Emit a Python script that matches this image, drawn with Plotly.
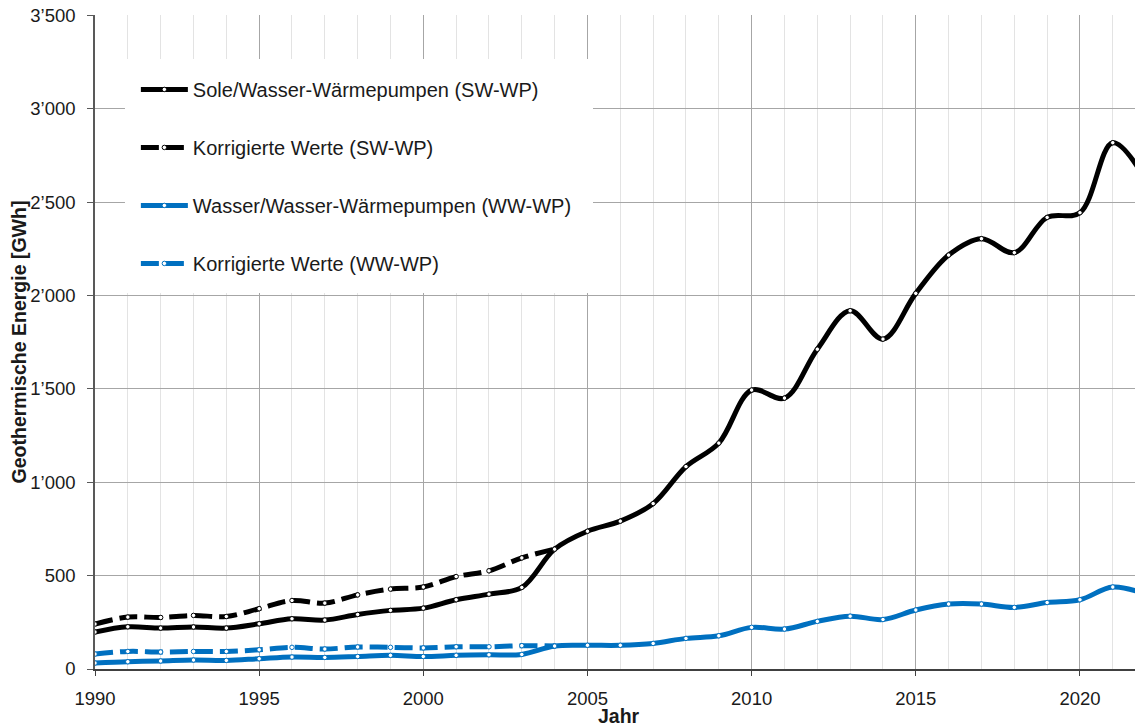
import plotly.graph_objects as go

years = list(range(1990, 2023))
years_korr = list(range(1990, 2005))

sw_wp = [198, 226, 219, 225, 219, 242, 269, 262, 292, 314, 326, 371, 401, 437, 642,
         738, 792, 886, 1084, 1210, 1494, 1451, 1713, 1919, 1767, 2012, 2217, 2305,
         2230, 2419, 2444, 2819, 2620]
sw_wp_korr = [241, 278, 276, 287, 281, 323, 367, 353, 397, 428, 439, 495, 526, 595, 642]

ww_wp = [32, 39, 43, 48, 46, 55, 64, 62, 67, 73, 67, 73, 76, 78, 123,
         127, 127, 137, 164, 178, 223, 214, 255, 283, 265, 316, 348, 348,
         330, 356, 371, 439, 400]
ww_wp_korr = [80, 94, 91, 94, 94, 103, 116, 107, 118, 116, 113, 119, 119, 125, 123]

BLACK = "#000000"
BLUE = "#0070C0"
FONT = "Liberation Sans, Arial, sans-serif"

series = [
    ("Sole/Wasser-Wärmepumpen (SW-WP)", years, sw_wp, BLACK, "solid"),
    ("Korrigierte Werte (SW-WP)", years_korr, sw_wp_korr, BLACK, "18px,7px"),
    ("Wasser/Wasser-Wärmepumpen (WW-WP)", years, ww_wp, BLUE, "solid"),
    ("Korrigierte Werte (WW-WP)", years_korr, ww_wp_korr, BLUE, "18px,7px"),
]

fig = go.Figure()
for i, (name, x, y, color, dash) in enumerate(series):
    fig.add_trace(
        go.Scatter(
            x=x, y=y, name=name, legendgroup=f"g{i}",
            mode="lines+markers",
            line=dict(color=color, width=5, dash=dash, shape="spline", smoothing=1),
            marker=dict(color="white", size=4.5, line=dict(color=color, width=1)),
        )
    )

# white box behind legend (covers the grid like the original)
fig.add_shape(
    type="rect", xref="paper", yref="paper",
    x0=0.0286, x1=0.4752, y0=0.5749, y1=0.9327,
    fillcolor="white", line=dict(width=0), layer="above",
)

# x axis title as annotation so it can sit right at the bottom edge
fig.add_annotation(
    text="<b>Jahr</b>", xref="paper", yref="paper", x=0.5, y=0,
    xanchor="center", yanchor="middle", yshift=-47, showarrow=False,
    font=dict(size=19.5, family=FONT, color="#1a1a1a"),
)

# page body adds an 8px offset, so the figure is 8px smaller than the window
fig.update_layout(
    width=1135, height=718,
    margin=dict(l=87, r=0, t=7, b=57),
    plot_bgcolor="white", paper_bgcolor="white",
    separators=".’",
    font=dict(family=FONT, color="#1a1a1a"),
    legend=dict(
        x=0.039, y=0.916, xanchor="left", yanchor="top",
        bgcolor="rgba(0,0,0,0)", font=dict(size=20, family=FONT, color="#1a1a1a"),
        itemwidth=47, tracegroupgap=29, traceorder="grouped",
    ),
    xaxis=dict(
        range=[1990, 2021.92], tickmode="linear", tick0=1990, dtick=5,
        ticks="outside", ticklen=5, tickcolor="#404040",
        showline=True, linecolor="#404040", linewidth=1.5,
        showgrid=True, gridcolor="#a6a6a6", gridwidth=1, zeroline=False,
        minor=dict(dtick=1, showgrid=True, gridcolor="#e3e3e3", ticks=""),
        tickfont=dict(size=18.5, family=FONT), ticklabelstandoff=7,
        automargin=False,
    ),
    yaxis=dict(
        range=[0, 3503], tickmode="linear", tick0=0, dtick=500,
        ticks="outside", ticklen=6, tickcolor="#595959",
        showline=True, linecolor="#595959", linewidth=1.5,
        showgrid=True, gridcolor="#a6a6a6", gridwidth=1, zeroline=False,
        separatethousands=True, ticklabeloverflow="allow",
        tickfont=dict(size=18.5, family=FONT), ticklabelstandoff=8,
        automargin=False,
        title=dict(text="<b>Geothermische Energie [GWh]</b>",
                   font=dict(size=19.5, family=FONT), standoff=0),
    ),
)

fig.write_html("out.html")
